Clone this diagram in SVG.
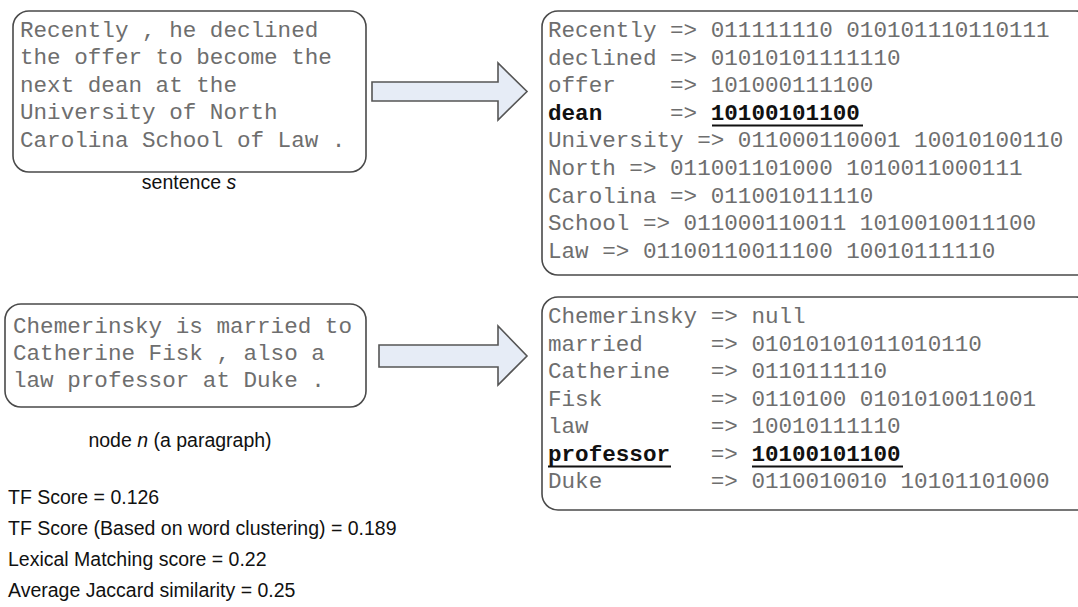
<svg xmlns="http://www.w3.org/2000/svg" width="1078" height="607" viewBox="0 0 1078 607">
<style>
.box{fill:#fff;stroke:#4a4a4a;stroke-width:1.6}
.mono{font-family:"Liberation Mono","Courier New",monospace;font-size:22.6px;fill:#6e6e6e}
.b{font-weight:bold;fill:#111}
.lbl{font-family:"Liberation Sans",Arial,sans-serif;font-size:19.5px;fill:#111}
.arrow{fill:#e6ecf6;stroke:#555;stroke-width:1.6}
.ul{stroke:#111;stroke-width:2}
</style>
<rect width="1078" height="607" fill="#fff"/>
<g id="connectors">
<polygon class="arrow" points="372,82 498,82 498,63 527,91.5 498,120 498,101 372,101"/>
<polygon class="arrow" points="379,345 498,345 498,326 527,356 498,385 498,367 379,367"/>
</g>
<g id="sentence">
<rect class="box" x="13" y="11" width="353" height="161" rx="16"/>
<text class="mono" x="20" y="36.5">Recently , he declined</text>
<text class="mono" x="20" y="64">the offer to become the</text>
<text class="mono" x="20" y="91.5">next dean at the</text>
<text class="mono" x="20" y="119">University of North</text>
<text class="mono" x="20" y="146.5">Carolina School of Law .</text>
<text class="lbl" x="189" y="189" text-anchor="middle">sentence <tspan font-style="italic">s</tspan></text>
</g>
<g id="sentence-codes">
<rect class="box" x="542" y="11" width="550" height="264" rx="16"/>
<text class="mono" x="548" y="37" xml:space="preserve">Recently =&gt; 011111110 010101110110111</text>
<text class="mono" x="548" y="64.6" xml:space="preserve">declined =&gt; 01010101111110</text>
<text class="mono" x="548" y="92.2" xml:space="preserve">offer    =&gt; 101000111100</text>
<text class="mono" x="548" y="119.8" xml:space="preserve"><tspan class="b">dean</tspan>     =&gt; <tspan class="b">10100101100</tspan></text>
<line class="ul" x1="712" y1="125.5" x2="863" y2="125.5"/>
<text class="mono" x="548" y="147.4" xml:space="preserve">University =&gt; 011000110001 10010100110</text>
<text class="mono" x="548" y="175" xml:space="preserve">North =&gt; 011001101000 1010011000111</text>
<text class="mono" x="548" y="202.6" xml:space="preserve">Carolina =&gt; 011001011110</text>
<text class="mono" x="548" y="230.2" xml:space="preserve">School =&gt; 011000110011 1010010011100</text>
<text class="mono" x="548" y="257.8" xml:space="preserve">Law =&gt; 01100110011100 10010111110</text>
</g>
<g id="node">
<rect class="box" x="5" y="304" width="361" height="103" rx="16"/>
<text class="mono" x="13" y="333">Chemerinsky is married to</text>
<text class="mono" x="13" y="360">Catherine Fisk , also a</text>
<text class="mono" x="13" y="386.5">law professor at Duke .</text>
<text class="lbl" x="180" y="447" text-anchor="middle">node <tspan font-style="italic">n</tspan> (a paragraph)</text>
</g>
<g id="node-codes">
<rect class="box" x="542" y="297" width="550" height="213" rx="16"/>
<text class="mono" x="548" y="323" xml:space="preserve">Chemerinsky =&gt; null</text>
<text class="mono" x="548" y="350.5" xml:space="preserve">married     =&gt; 01010101011010110</text>
<text class="mono" x="548" y="378" xml:space="preserve">Catherine   =&gt; 0110111110</text>
<text class="mono" x="548" y="405.5" xml:space="preserve">Fisk        =&gt; 0110100 0101010011001</text>
<text class="mono" x="548" y="433" xml:space="preserve">law         =&gt; 10010111110</text>
<text class="mono" x="548" y="460.5" xml:space="preserve"><tspan class="b">professor</tspan>   =&gt; <tspan class="b">10100101100</tspan></text>
<line class="ul" x1="548" y1="466.5" x2="671" y2="466.5"/>
<line class="ul" x1="752" y1="466.5" x2="903" y2="466.5"/>
<text class="mono" x="548" y="488" xml:space="preserve">Duke        =&gt; 0110010010 10101101000</text>
</g>
<g id="scores">
<text class="lbl" x="8" y="504">TF Score = 0.126</text>
<text class="lbl" x="8" y="535">TF Score (Based on word clustering) = 0.189</text>
<text class="lbl" x="8" y="566">Lexical Matching score = 0.22</text>
<text class="lbl" x="8" y="597">Average Jaccard similarity = 0.25</text>
</g>
</svg>
